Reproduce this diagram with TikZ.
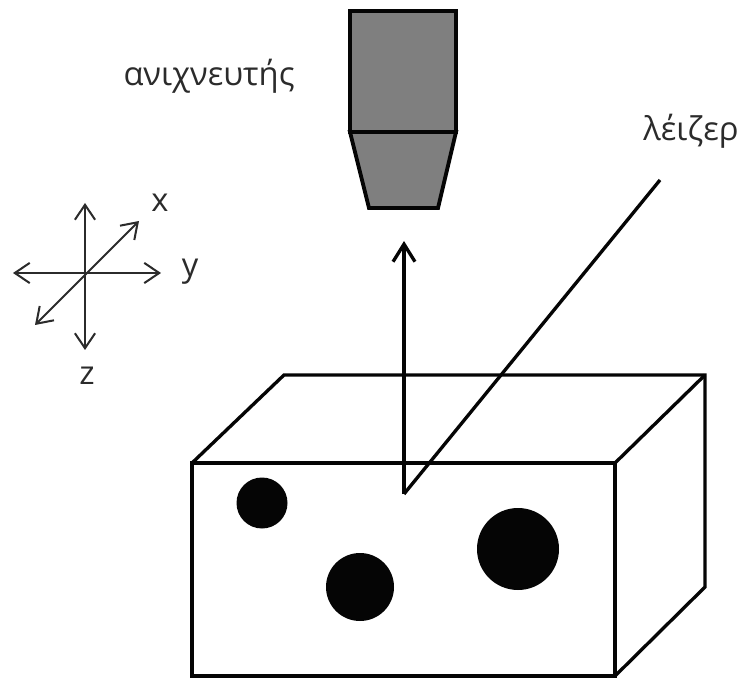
\documentclass[tikz,border=0pt]{standalone}
\usepackage{fontspec}
\setmainfont{Open Sans}
\usetikzlibrary{arrows.meta,positioning}
\definecolor{Ink}{HTML}{050505}
\definecolor{LabelInk}{HTML}{2B2B2B}
\definecolor{DetectorGray}{HTML}{7F7F7F}
\tikzset{
  label text/.style={text=LabelInk,font=\fontsize{18.6pt}{22pt}\selectfont,inner sep=0pt},
  axis line/.style={draw=LabelInk,line width=1.15pt,{Straight Barb[length=8.5pt,width=11.5pt]}-{Straight Barb[length=8.5pt,width=11.5pt]}},
  thick line/.style={draw=Ink,line width=1.9pt},
  detector part/.style={draw=Ink,fill=DetectorGray,line width=2.2pt,line join=miter},
  particle/.style={circle,fill=Ink,inner sep=0pt},
}
\begin{document}
\begin{tikzpicture}[x=0.02cm,y=-0.02cm]
    \useasboundingbox (0,0) rectangle (743,678);

    % detector
    \draw[detector part] (350,11) rectangle (456,132);
    \draw[detector part] (350,132) -- (456,132) -- (438,208) -- (369,208) -- cycle;
    \node[label text] (detectorlabel) at (209,76) {ανιχνευτής};

    % sample box
    \coordinate (fronttl) at (192,463);
    \coordinate (fronttr) at (615,463);
    \coordinate (frontbr) at (615,676);
    \coordinate (frontbl) at (192,676);
    \coordinate (backtl) at (284,375);
    \coordinate (backtr) at (705,375);
    \coordinate (backbr) at (705,587);
    \draw[thick line,line join=miter] (fronttl) -- (fronttr) -- (frontbr) -- (frontbl) -- cycle;
    \draw[thick line] (fronttl) -- (backtl) -- (backtr) -- (backbr) -- (frontbr);
    \draw[thick line] (fronttr) -- (backtr);

    \node[particle,minimum size=0.02cm*51] (small) at (262,503) {};
    \node[particle,minimum size=0.02cm*68] (middle) at (360,587) {};
    \node[particle,minimum size=0.02cm*82] (large) at (518,549) {};

    % beams
    \coordinate (focus) at (404,494);
    \coordinate (signal) at (404,241);
    \coordinate (laserend) at (660,180);
    \draw[thick line,-{Straight Barb[length=10pt,width=12.5pt]}] (focus) -- (signal);
    \draw[thick line] (focus) -- (laserend);
    \node[label text] (laserlabel) at (691,131) {λέιζερ};

    % axes
    \coordinate (up) at (85,203);
    \coordinate (down) at (85,350);
    \coordinate (left) at (13,273);
    \coordinate (right) at (161,273);
    \coordinate (xend) at (139,221);
    \coordinate (xback) at (35,325);
    \draw[axis line] (down) -- (up);
    \draw[axis line] (left) -- (right);
    \draw[axis line] (xback) -- (xend);
    \node[label text] (xlabel) at (160,203) {x};
    \node[label text] (ylabel) at (190,272) {y};
    \node[label text] (zlabel) at (87,376) {z};
\end{tikzpicture}
\end{document}
